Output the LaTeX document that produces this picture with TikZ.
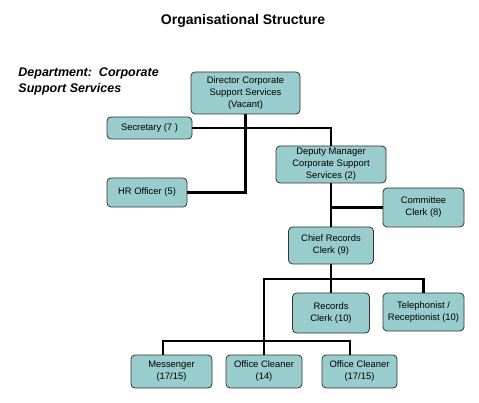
\documentclass[tikz,border=0pt]{standalone}
\usepackage{fontspec}
\setmainfont{Liberation Sans}
\usepackage{xcolor}
\usetikzlibrary{positioning}
\definecolor{boxteal}{HTML}{99CCCC}
\definecolor{boxedge}{HTML}{333333}

\begin{document}
\begin{tikzpicture}[
  x=1pt, y=-1pt,
  line width=2.2pt,
  B/.style={draw=boxedge, line width=0.8pt, rounded corners=4pt, fill=boxteal,
    align=center, inner sep=1pt, font=\fontsize{9.4}{12}\selectfont},
]
\useasboundingbox (0,0) rectangle (479,403);

%--- TITLE ---
\node[font=\bfseries\fontsize{14}{16}\selectfont] (title) at (243,21) {Organisational Structure};
\node[font=\bfseries\itshape\fontsize{12.5}{16}\selectfont, align=left, anchor=north west]
  (dept) at (14,63) {Department:\ \ Corporate\\Support Services};

%--- TOP LEVEL ---
\node[B, minimum width=109, minimum height=42] (dir) at (245.5,93)
  {Director Corporate\\Support Services\\(Vacant)};
\node[B, minimum width=85, minimum height=22] (sec) at (149.5,128) {Secretary (7 )};
\node[B, minimum width=80, minimum height=29] (hr) at (147,192.5) {HR Officer (5)};

%--- DEPUTY ---
\node[B, minimum width=110, minimum height=37] (dep) at (331,164.5)
  {Deputy Manager\\Corporate Support\\Services (2)};
\node[B, minimum width=81, minimum height=39] (com) at (423.5,207.5)
  {Committee\\Clerk (8)};

%--- RECORDS ---
\node[B, minimum width=85, minimum height=37] (chief) at (331,245.5)
  {Chief Records\\Clerk (9)};
\node[B, minimum width=77, minimum height=40] (rec) at (331,313)
  {Records\\Clerk (10)};
\node[B, minimum width=81, minimum height=38, inner sep=0pt] (tel) at (423.5,312)
  {Telephonist /\\Receptionist (10)};

%--- BOTTOM ROW ---
\node[B, minimum width=81, minimum height=33] (mes) at (171.5,371.5)
  {Messenger\\(17/15)};
\node[B, minimum width=76, minimum height=33] (cl1) at (264,371.5)
  {Office Cleaner\\(14)};
\node[B, minimum width=75, minimum height=33] (cl2) at (359.5,371.5)
  {Office Cleaner\\(17/15)};

%--- JUNCTIONS ---
\coordinate (h1) at (264,279);
\coordinate (bar) at (264,341);

%--- LINES ---
\draw (dir.south) |- (hr.east);
\draw (sec.east) -| (dep.north);
\draw (dep.south) -- (chief.north);
\draw (com.west) -- (com.west -| dep.south);
\draw (chief.south) -- (rec.north);
\draw (tel.north) |- (h1) -- (cl1.north);
\draw ([xshift=-8.5pt]mes.north) |- (bar) -| ([xshift=-9.5pt]cl2.north);
\end{tikzpicture}
\end{document}
